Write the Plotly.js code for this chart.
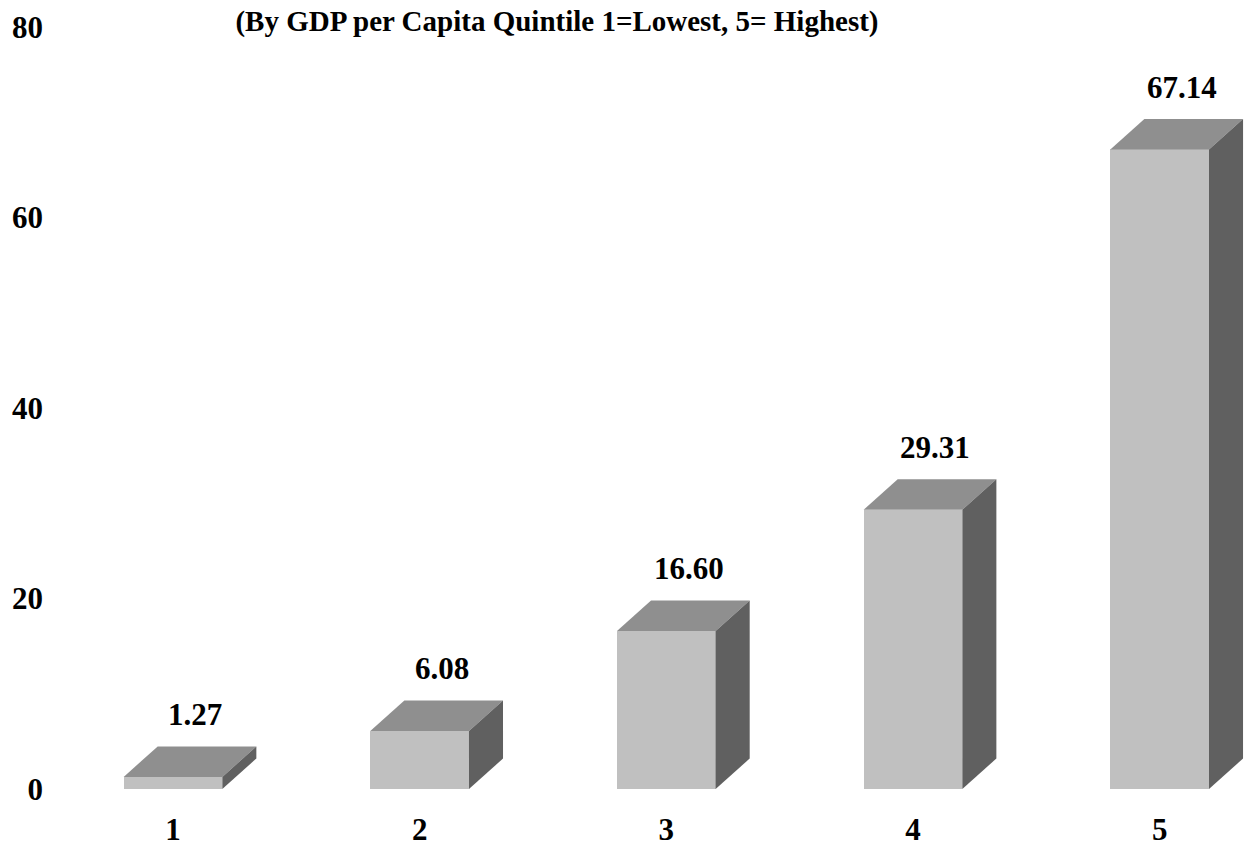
<!DOCTYPE html>
<html>
<head>
<meta charset="utf-8">
<script src="https://cdn.plot.ly/plotly-3.0.1.min.js"></script>
<style>html,body{margin:0;padding:0;background:#fff;}#chart{width:1246px;height:848px;}</style>
</head>
<body>
<div id="chart"></div>
<script>
// Data
const categories = [1, 2, 3, 4, 5];
const values = [1.27, 6.08, 16.60, 29.31, 67.14];
const valueLabels = ["1.27", "6.08", "16.60", "29.31", "67.14"];
const yTicks = [0, 20, 40, 60, 80];
const titleText = "(By GDP per Capita Quintile 1=Lowest, 5= Highest)";

// 3D appearance parameters
const barW = 0.40;   // bar width in category units
const depthX = 0.138; // depth offset in category units
const depthY = 3.2;   // depth offset in value units
const FONT = "Liberation Serif, Times New Roman, serif";

const traces = [];
// front faces
traces.push({
  type: 'bar', x: categories, y: values, width: barW,
  marker: {color: '#c0c0c0', line: {width: 0}},
  hoverinfo: 'skip', showlegend: false
});
categories.forEach((c, i) => {
  const v = values[i];
  const l = c - barW / 2, r = c + barW / 2;
  // top face
  traces.push({
    type: 'scatter', mode: 'lines', fill: 'toself', fillcolor: '#8f8f8f',
    x: [l, r, r + depthX, l + depthX, l],
    y: [v, v, v + depthY, v + depthY, v],
    line: {width: 0, color: '#8f8f8f'}, hoverinfo: 'skip', showlegend: false
  });
  // side face
  traces.push({
    type: 'scatter', mode: 'lines', fill: 'toself', fillcolor: '#606060',
    x: [r, r, r + depthX, r + depthX, r],
    y: [0, v, v + depthY, depthY, 0],
    line: {width: 0, color: '#606060'}, hoverinfo: 'skip', showlegend: false
  });
});

const annotations = categories.map((c, i) => ({
  x: c + 0.09, y: values[i] + depthY, xref: 'x', yref: 'y',
  text: '<b>' + valueLabels[i] + '</b>', showarrow: false,
  yanchor: 'middle', xanchor: 'center', yshift: 32,
  font: {family: FONT, size: 31, color: '#000'}
}));

const layout = {
  width: 1246, height: 848,
  paper_bgcolor: '#ffffff', plot_bgcolor: '#ffffff',
  margin: {l: 60, r: 0, t: 26.5, b: 58.5},
  title: {
    text: '<b>' + titleText + '</b>',
    x: 0.447, xref: 'container', xanchor: 'center',
    y: 0.976, yref: 'container', yanchor: 'middle',
    font: {family: FONT, size: 29, color: '#000'}
  },
  showlegend: false,
  bargap: 0,
  xaxis: {
    range: [0.542, 5.35], tickvals: categories,
    ticktext: categories.map(c => '<b>' + c + '</b>'),
    showgrid: false, zeroline: false, showline: false, ticks: '',
    ticklabelstandoff: 19,
    tickfont: {family: FONT, size: 31, color: '#000'}
  },
  yaxis: {
    range: [0, 80], tickvals: yTicks,
    ticktext: yTicks.map(t => '<b>' + t + '</b>'),
    showgrid: false, zeroline: false, showline: false, ticks: '',
    ticklabelstandoff: 16,
    tickfont: {family: FONT, size: 31, color: '#000'}
  },
  annotations: annotations
};

Plotly.newPlot('chart', traces, layout, {displayModeBar: false, staticPlot: true});
</script>
</body>
</html>
